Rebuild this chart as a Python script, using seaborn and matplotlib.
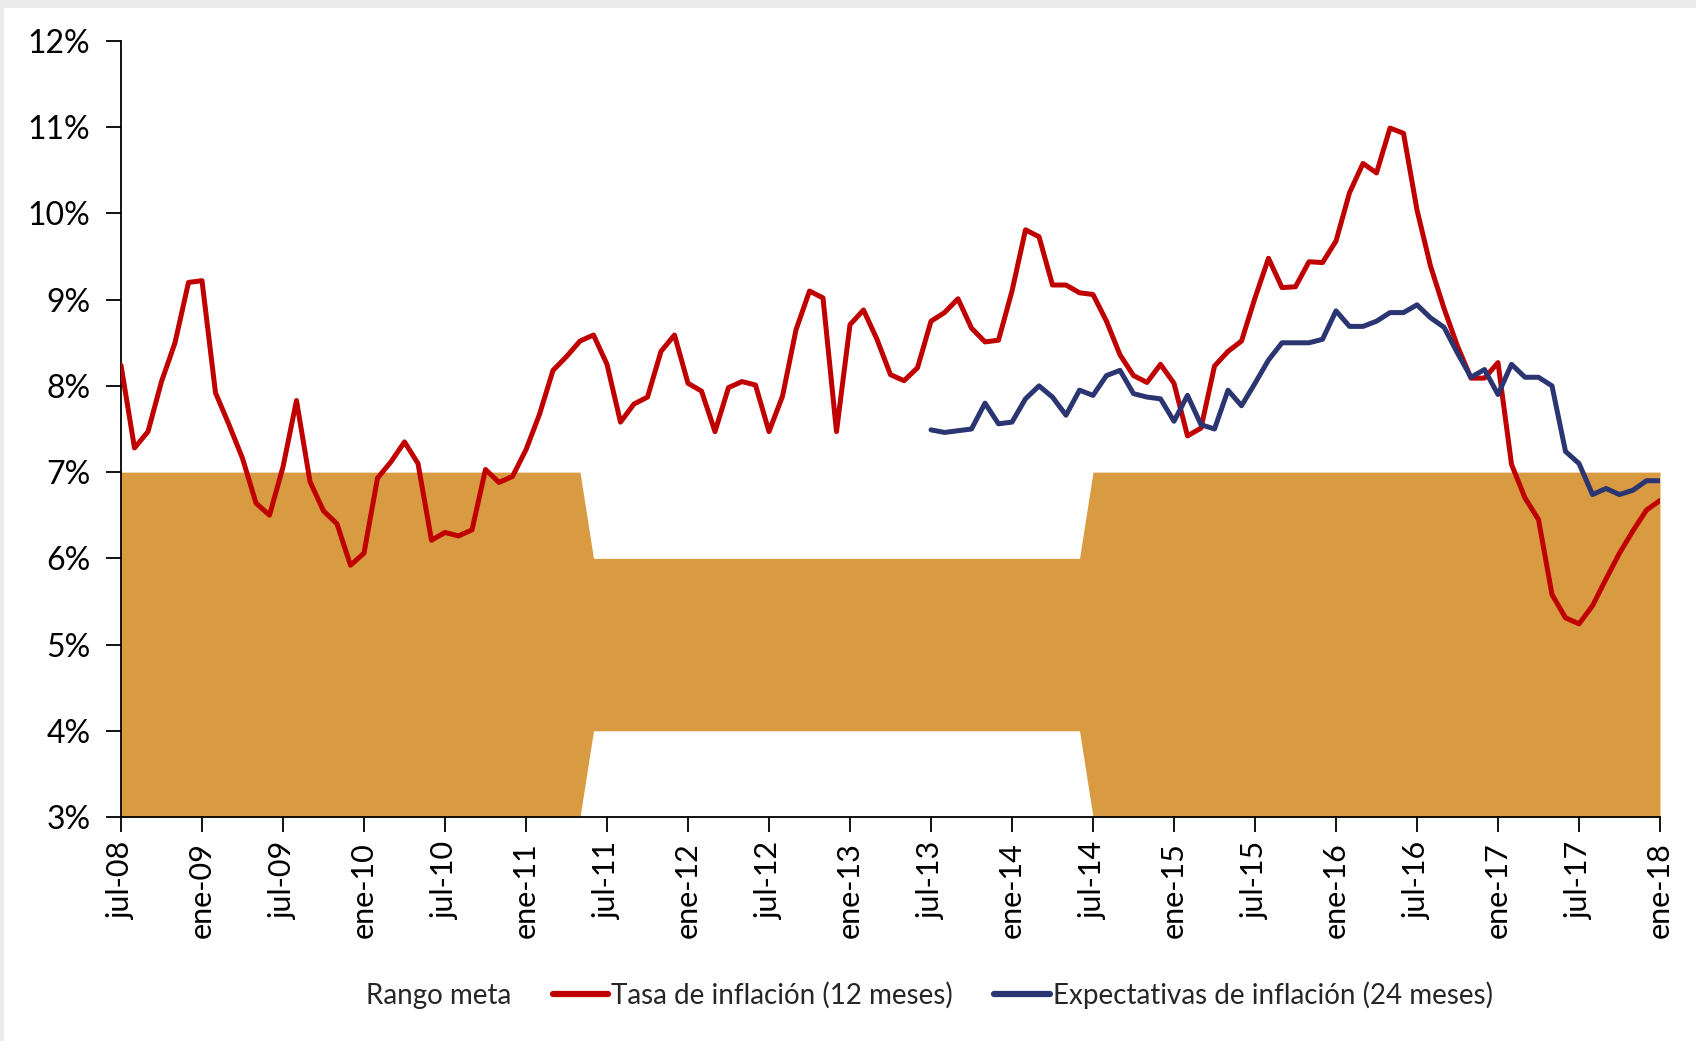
import numpy as np
import pandas as pd
import matplotlib
matplotlib.use("Agg")
import matplotlib.pyplot as plt
from matplotlib.lines import Line2D
from matplotlib.patches import Patch, Rectangle
import seaborn as sns

# ---------------- data ----------------
tick_labels = ["jul-08", "ene-09", "jul-09", "ene-10", "jul-10", "ene-11", "jul-11",
               "ene-12", "jul-12", "ene-13", "jul-13", "ene-14", "jul-14", "ene-15",
               "jul-15", "ene-16", "jul-16", "ene-17", "jul-17", "ene-18"]

# monthly, jul-08 .. ene-18 (115 months)
inflacion = [
    8.24, 7.28, 7.47, 8.05, 8.50, 9.20, 9.22, 7.92, 7.55, 7.16,
    6.64, 6.50, 7.06, 7.83, 6.89, 6.55, 6.40, 5.92, 6.06, 6.93,
    7.12, 7.35, 7.10, 6.21, 6.30, 6.26, 6.33, 7.03, 6.88, 6.95,
    7.26, 7.67, 8.18, 8.34, 8.52, 8.59, 8.25, 7.58, 7.79, 7.87,
    8.40, 8.59, 8.03, 7.94, 7.47, 7.98, 8.05, 8.01, 7.47, 7.88,
    8.65, 9.10, 9.02, 7.47, 8.71, 8.88, 8.54, 8.13, 8.06, 8.21,
    8.75, 8.85, 9.01, 8.67, 8.51, 8.53, 9.10, 9.81, 9.73, 9.17,
    9.17, 9.08, 9.06, 8.75, 8.36, 8.12, 8.04, 8.25, 8.03, 7.42,
    7.51, 8.23, 8.40, 8.52, 9.02, 9.48, 9.14, 9.15, 9.44, 9.43,
    9.68, 10.24, 10.58, 10.47, 10.99, 10.93, 10.04, 9.39, 8.90, 8.46,
    8.09, 8.09, 8.27, 7.09, 6.70, 6.45, 5.58, 5.31, 5.24, 5.45,
    5.76, 6.06, 6.32, 6.56, 6.67,
]

# expectations start in jul-13 (month 60)
expectativas = [np.nan] * 60 + [
    7.49, 7.46, 7.48, 7.50, 7.80, 7.56, 7.58, 7.85, 8.00, 7.87,
    7.66, 7.95, 7.89, 8.12, 8.18, 7.91, 7.87, 7.85, 7.59, 7.89,
    7.55, 7.50, 7.95, 7.77, 8.03, 8.30, 8.50, 8.50, 8.50, 8.54,
    8.87, 8.69, 8.69, 8.75, 8.85, 8.85, 8.94, 8.79, 8.68, 8.38,
    8.10, 8.19, 7.90, 8.25, 8.10, 8.10, 8.00, 7.24, 7.10, 6.74,
    6.81, 6.74, 6.79, 6.90, 6.90,
]

# target range (rango meta): 3-7% until may-11, 4-6% jun-11..may-14, 3-7% from jun-14
meta_inferior = [3.0] * 35 + [4.0] * 37 + [3.0] * 43
meta_superior = [7.0] * 35 + [6.0] * 37 + [7.0] * 43

series_names = ["Tasa de inflación (12 meses)", "Expectativas de inflación (24 meses)"]
range_name = "Rango meta"

# ---------------- styling ----------------
RED = "#C00000"
BLUE = "#2A3572"
ORANGE = "#D99B41"

sns.set_theme(style="white")
plt.rcParams["font.family"] = ["Lato", "DejaVu Sans"]

n = len(inflacion)
mes = np.arange(n)
df = pd.DataFrame({
    "mes": np.concatenate([mes, mes]),
    "valor": inflacion + expectativas,
    "serie": [series_names[0]] * n + [series_names[1]] * n,
})

fig = plt.figure(figsize=(16.96, 10.41), dpi=100, facecolor="#ECECEC")
fig.patches.append(Rectangle((4 / 1696, 0), 1, 1 - 8 / 1041, transform=fig.transFigure,
                             facecolor="white", edgecolor="none", zorder=-10))
ax = fig.add_axes([121 / 1696, 1 - 817 / 1041, (1660 - 121) / 1696, (817 - 41) / 1041])
ax.set_facecolor("none")

ax.fill_between(mes, meta_inferior, meta_superior, color=ORANGE, linewidth=0, zorder=1)

sns.lineplot(data=df, x="mes", y="valor", hue="serie",
             palette={series_names[0]: RED, series_names[1]: BLUE},
             estimator=None, sort=False, linewidth=3.6, ax=ax, legend=False, zorder=3)

ax.set_xlim(0, n - 1)
ax.set_ylim(3, 12)
ax.set_xticks(np.arange(0, n, 6))
ax.set_xticklabels(tick_labels, rotation=90)
ax.set_yticks(np.arange(3, 13, 1))
ax.set_yticklabels([f"{v}%" for v in range(3, 13)])
ax.set_xlabel("")
ax.set_ylabel("")

for s in ["top", "right"]:
    ax.spines[s].set_visible(False)
for s in ["left", "bottom"]:
    ax.spines[s].set_color("black")
    ax.spines[s].set_linewidth(1.3)

ax.tick_params(axis="both", which="major", direction="out", length=11, width=1.3,
               color="black", labelcolor="black", bottom=True, left=True)
ax.tick_params(axis="y", labelsize=23, pad=11)
ax.tick_params(axis="x", labelsize=22, pad=7)

handles = [
    Patch(facecolor="none", edgecolor="none"),
    Line2D([0], [0], color=RED, lw=4.5),
    Line2D([0], [0], color=BLUE, lw=4.5),
]
labels = [range_name] + series_names
fig.legend(handles, labels, loc="center", bbox_to_anchor=(900 / 1696, 1 - 995 / 1041),
           ncol=3, frameon=False, fontsize=20, handlelength=2.0, handletextpad=0.1,
           columnspacing=1.5)

fig.savefig("out.png", dpi=100, facecolor=fig.get_facecolor())
